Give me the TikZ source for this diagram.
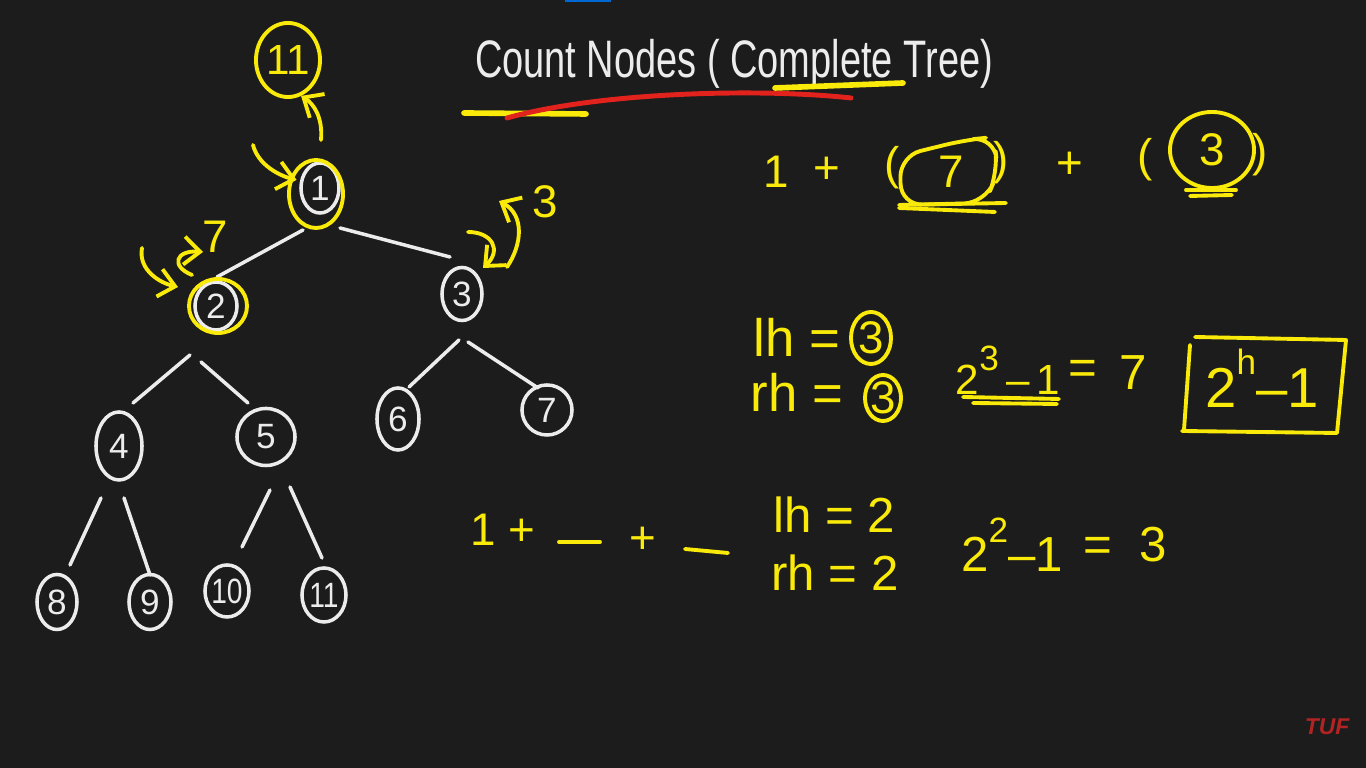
\documentclass[tikz,border=0pt]{standalone}
\usepackage{fontspec}
\setmainfont{Liberation Sans}
\usepackage{graphicx}
\usetikzlibrary{positioning, arrows.meta, shapes.geometric}
\definecolor{boardcolor}{RGB}{28,28,28}
\definecolor{chalkcolor}{RGB}{236,236,236}
\definecolor{penyellow}{RGB}{250,234,10}
\definecolor{penred}{RGB}{226,34,28}
\definecolor{tufcolor}{RGB}{178,36,36}
\definecolor{barcolor}{RGB}{0,104,210}
\newcommand{\hsup}[1]{\raisebox{1.1ex}{\fontsize{10}{11}\selectfont #1}}

\tikzset{
  tnode/.style={ellipse, draw=chalkcolor, line width=1pt, text=chalkcolor, inner sep=0pt, font=\fontsize{10}{12}\selectfont},
  edge/.style={draw=chalkcolor, line width=1pt, line cap=round},
  yline/.style={draw=penyellow, line width=1.1pt, line cap=round, line join=round},
  yarrow/.style={yline, -{Straight Barb[length=1.6mm, width=2.8mm]}},
  ytext/.style={text=penyellow, font=\fontsize{13}{15}\selectfont, inner sep=1pt},
  ycirc/.style={ellipse, draw=penyellow, line width=1.1pt, text=penyellow, inner sep=0pt, font=\fontsize{13}{15}\selectfont},
}

\begin{document}
\begin{tikzpicture}[x=0.01cm, y=-0.01cm]
    % Tableau
    \fill[boardcolor] (0,0) rectangle (1366,768);
    \fill[barcolor] (565,0) rectangle (611,2);

    % Arbre complet
    \node[tnode, minimum width=.38cm, minimum height=.50cm] (n1) at (320,188) {1};
    \node[tnode, minimum width=.42cm, minimum height=.48cm] (n2) at (216,306) {2};
    \node[tnode, minimum width=.40cm, minimum height=.53cm] (n3) at (462,294) {3};
    \node[tnode, minimum width=.46cm, minimum height=.68cm] (n4) at (119,446) {4};
    \node[tnode, minimum width=.58cm, minimum height=.57cm] (n5) at (266,437) {5};
    \node[tnode, minimum width=.42cm, minimum height=.62cm] (n6) at (398,419) {6};
    \node[tnode, minimum width=.50cm, minimum height=.50cm] (n7) at (547,410) {7};
    \node[tnode, minimum width=.40cm, minimum height=.55cm] (n8) at (57,602) {8};
    \node[tnode, minimum width=.42cm, minimum height=.55cm] (n9) at (150,602) {9};
    \node[tnode, minimum width=.44cm, minimum height=.52cm] (n10) at (227,591) {\makebox[0pt]{\scalebox{0.8}[1]{10}}};
    \node[tnode, minimum width=.44cm, minimum height=.54cm] (n11) at (324,595) {\makebox[0pt]{\scalebox{0.8}[1]{11}}};

    \foreach \a/\ax/\ay/\b/\bx/\by in {n1/-17/42/n2/1/-29, n1/20/40/n3/-12/-37,
        n2/-26/49/n4/14/-43, n2/-15/56/n5/-18/-34, n3/-3/46/n6/11/-32, n3/6/48/n7/-9/-22,
        n4/-18/52/n8/13/-37, n4/5/52/n9/0/-27, n5/4/53/n10/15/-44, n5/24/50/n11/-2/-37}
        \draw[edge] ([shift={(\ax,\ay)}]\a.center) -- ([shift={(\bx,\by)}]\b.center);

    % Annotations jaunes sur l'arbre
    \node[ycirc, minimum width=.64cm, minimum height=.74cm, font=\fontsize{12}{14}\selectfont] (topcount) at (288,60) {11};
    \draw[yline] ([shift={(-4,6)}]n1.center) ellipse [x radius=.27cm, y radius=.34cm];
    \draw[yline] ([shift={(2,0)}]n2.center) ellipse [x radius=.29cm, y radius=.27cm];

    \coordinate (upTail) at (321,140);
    \coordinate (inTail) at (253,145);
    \coordinate (t2) at (142,248);
    \coordinate (hook7) at (192,275);
    \coordinate (t3a) at (468,232);
    \coordinate (t3b) at (507,267);
    \coordinate (h3b) at (499,201);
    \node[ytext] (lab7) at (215,237) {7};
    \node[ytext] (lab3) at (545,202) {3};

    \draw[yarrow] (upTail) .. controls (323,118) and (314,104) .. (topcount.-70);
    \draw[yarrow, shorten >=1pt] (inTail) .. controls (258,165) and (280,176) .. (n1.160);
    \draw[yarrow] (t2) .. controls (138,270) and (160,283) .. ([shift={(-38,-19)}]n2.center);
    \draw[yarrow] (hook7) .. controls (170,266) and (176,250) .. ([shift={(-12,15)}]lab7.center);
    \draw[yarrow] (t3a) .. controls (492,232) and (502,250) .. ([shift={(21,-26)}]n3.center);
    \draw[yarrow] (t3b) .. controls (522,245) and (525,215) .. (h3b);

    % Titre
    \node[text=chalkcolor, font=\fontsize{15}{18}\selectfont] (title) at (734,64)
        {\scalebox{0.72}[1]{Count Nodes ( Complete Tree)}};
    \draw[yline, line width=1.6pt] (464,113) -- (586,114);
    \draw[penred, line width=1.4pt, line cap=round] (507,118) .. controls (600,92) and (760,88) .. (851,98);
    \draw[yline, line width=1.6pt] (775,88) -- (903,83);

    % 1 + (7) + (3)
    \node[ytext] (one) at (776,172) {1};
    \node[ytext] (plusA) at (827,170) {+};
    \node[ytext] (lparA) at (892,168) {(};
    \node[ytext] (seven) at (951,172) {7};
    \draw[yline, rounded corners=6] (901,205) -- (900,156) -- (965,140) -- (994,137)
        -- (998,172) -- (985,203) -- cycle;
    \draw[yline] (899,205) -- (1006,203);
    \draw[yline] (899,208) -- (995,212);
    \node[ytext] (rparA) at (1001,163) {)};
    \node[ytext] (plusB) at (1070,165) {+};
    \node[ytext] (lparB) at (1145,160) {(};
    \node[ycirc, minimum width=.84cm, minimum height=.76cm] (three) at (1212,150) {3};
    \draw[yline] (1186,190) -- (1236,190);
    \draw[yline] (1190,196) -- (1232,195);
    \node[ytext] (rparB) at (1260,155) {)};

    % Hauteurs gauche / droite
    \node[ytext, font=\fontsize{15}{17}\selectfont] (lhA) at (797,337) {lh =};
    \node[ycirc, minimum width=.40cm, minimum height=.52cm] (lhval) at (871,338) {3};
    \node[ytext, font=\fontsize{15}{17}\selectfont] (rhA) at (797,392) {rh =};
    \node[ycirc, minimum width=.36cm, minimum height=.46cm] (rhval) at (883,398) {3};

    \node[ytext, font=\fontsize{12}{14}\selectfont] (powA) at (1008,370) {2\hsup{3}\,–\,1};
    \draw[yline] (963,397) -- (1059,399);
    \draw[yline] (973,403) -- (1057,404);
    \node[ytext, font=\fontsize{14}{16}\selectfont] (eqA) at (1083,372) {=};
    \node[ytext, font=\fontsize{14}{16}\selectfont] (resA) at (1133,373) {7};

    \node[ytext, font=\fontsize{16}{18}\selectfont] (formula) at (1262,378) {2\hsup{h}–1};
    \draw[yline] (1195,337) -- (1346,340) -- (1337,433) -- (1182,431);
    \draw[yline] (1190,345) -- (1184,430);

    % Sous-arbre
    \node[ytext] (oneB) at (483,530) {1};
    \node[ytext] (plusC) at (522,532) {+};
    \draw[yline] (559,542) -- (600,542);
    \node[ytext] (plusD) at (643,540) {+};
    \draw[yline] (685,549) -- (728,553);
    \node[ytext, font=\fontsize{14}{16}\selectfont] (lhB) at (834,515) {lh = 2};
    \node[ytext, font=\fontsize{14}{16}\selectfont] (rhB) at (835,573) {rh = 2};
    \node[ytext, font=\fontsize{14}{16}\selectfont] (powB) at (1012,545) {2\hsup{2}–1};
    \node[ytext, font=\fontsize{14}{16}\selectfont] (resB) at (1125,545) {= \ 3};

    % Logo
    \node[text=tufcolor, font=\bfseries\itshape\fontsize{6.5}{8}\selectfont] (logo) at (1327,727) {TUF};
\end{tikzpicture}
\end{document}
